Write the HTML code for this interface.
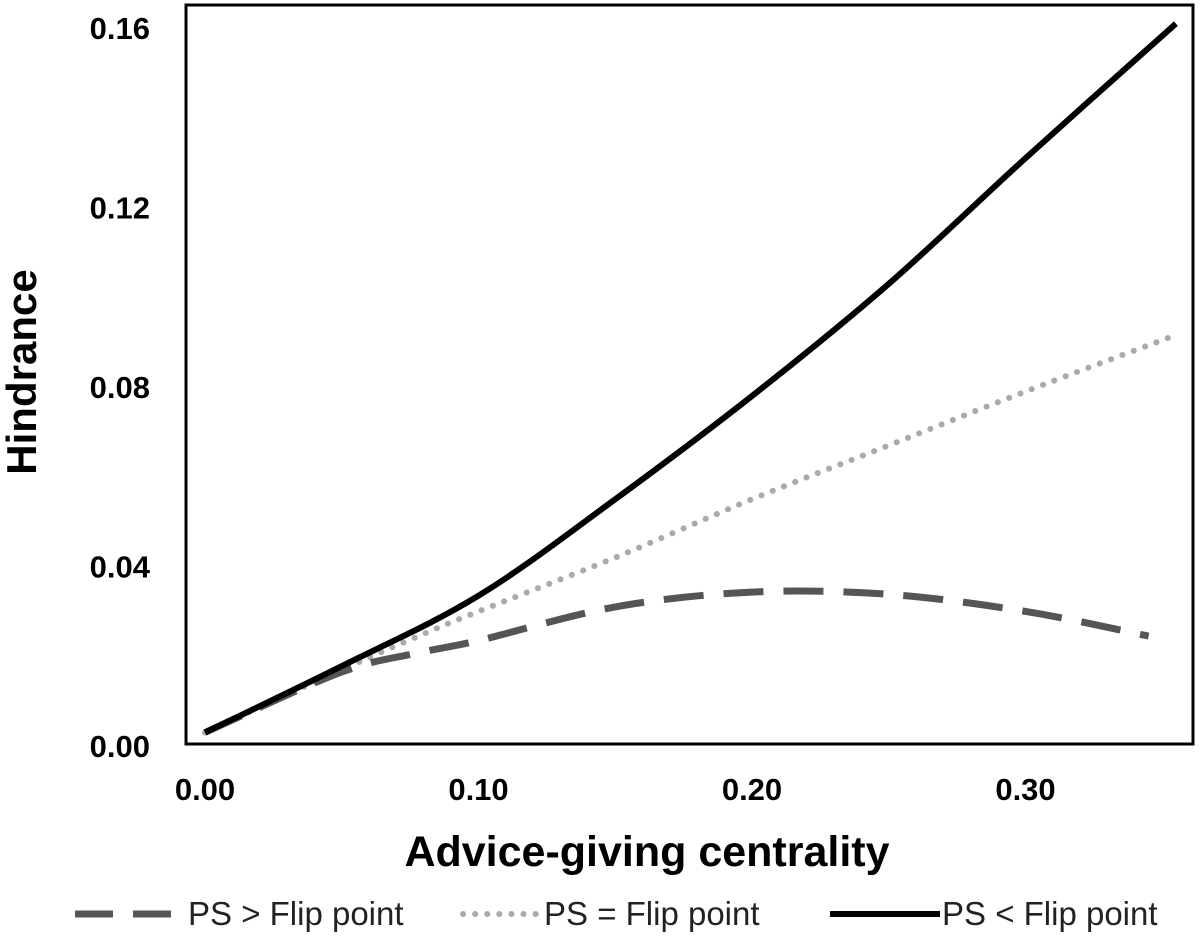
<!DOCTYPE html>
<html><head><meta charset="utf-8"><style>
html,body{margin:0;padding:0;background:#fff;width:1200px;height:942px;overflow:hidden}
text{font-family:"Liberation Sans",Arial,sans-serif}
</style></head><body>
<svg id="chart" width="1200" height="942" viewBox="0 0 1200 942">
<rect x="186" y="5" width="1007" height="739" fill="none" stroke="#000" stroke-width="3"/>
<g id="yticks"></g>
<g id="xticks"></g>
<g id="series"></g>
<text x="36" y="372" transform="rotate(-90 36 372)" text-anchor="middle" font-weight="bold" font-size="42">Hindrance</text>
<text x="647" y="866" text-anchor="middle" font-weight="bold" font-size="43">Advice-giving centrality</text>
<g>
<g>
<line x1="75" y1="914" x2="183" y2="914" stroke="#555" stroke-width="7" stroke-dasharray="38 20"/>
<text x="188" y="925" font-size="33" fill="#222">PS &gt; Flip point</text></g>
<g>
<line x1="463" y1="914" x2="540" y2="914" stroke="#aaa" stroke-width="6" stroke-dasharray="0.1 12" stroke-linecap="round"/>
<text x="544" y="925" font-size="33" fill="#222">PS = Flip point</text></g>
<g>
<line x1="830" y1="914" x2="940" y2="914" stroke="#000" stroke-width="6"/>
<text x="942" y="925" font-size="33" fill="#222">PS &lt; Flip point</text></g>
</g>
</svg>
<script>
const yTicks=[0,0.04,0.08,0.12,0.16];
const yTickLabels=["0.00","0.04","0.08","0.12","0.16"];
const xTicks=[0,0.1,0.2,0.3];
const xTickLabels=["0.00","0.10","0.20","0.30"];
const xValues=[0.0,0.05,0.10,0.15,0.20,0.25,0.30,0.355];
const solidValues=[0.003,0.0178,0.0335,0.055,0.078,0.103,0.131,0.161];
const dottedX=[0.0,0.05,0.08,0.10,0.15,0.20,0.25,0.30,0.355];
const dottedValues=[0.003,0.017,0.025,0.030,0.042,0.055,0.067,0.079,0.0916];
const dashedX=[0.0,0.05,0.08,0.10,0.15,0.20,0.25,0.30,0.345];
const dashedValues=[0.003,0.0165,0.021,0.0235,0.031,0.0343,0.0338,0.030,0.0245];
const X=v=>205+v*2735;
const Y=v=>746-v*4487;
const NS="http://www.w3.org/2000/svg";
function mk(tag,attrs,parent){const e=document.createElementNS(NS,tag);for(const k in attrs)e.setAttribute(k,attrs[k]);parent.appendChild(e);return e;}
const yg=document.getElementById('yticks'),xg=document.getElementById('xticks'),sg=document.getElementById('series');
yTicks.forEach((v,i)=>{const t=mk('text',{x:150,y:Y(v)+11,'text-anchor':'end','font-size':31,'font-weight':'bold'},yg);t.textContent=yTickLabels[i];

});
xTicks.forEach((v,i)=>{const t=mk('text',{x:X(v),y:800,'text-anchor':'middle','font-size':31,'font-weight':'bold'},xg);t.textContent=xTickLabels[i];

});
function pathOf(xs,ys){
  const p=xs.map((x,i)=>[X(x),Y(ys[i])]);
  let d='M'+p[0][0].toFixed(1)+' '+p[0][1].toFixed(1);
  for(let i=0;i<p.length-1;i++){
    const p0=p[Math.max(i-1,0)],p1=p[i],p2=p[i+1],p3=p[Math.min(i+2,p.length-1)];
    const c1=[p1[0]+(p2[0]-p0[0])/6,p1[1]+(p2[1]-p0[1])/6];
    const c2=[p2[0]-(p3[0]-p1[0])/6,p2[1]-(p3[1]-p1[1])/6];
    d+='C'+c1[0].toFixed(1)+' '+c1[1].toFixed(1)+' '+c2[0].toFixed(1)+' '+c2[1].toFixed(1)+' '+p2[0].toFixed(1)+' '+p2[1].toFixed(1);
  }
  return d;
}
const pd=mk('path',{d:pathOf(dottedX,dottedValues),fill:'none',stroke:'#aaa','stroke-width':6,'stroke-dasharray':'0.1 12','stroke-linecap':'round'},sg);


const pda=mk('path',{d:pathOf(dashedX,dashedValues),fill:'none',stroke:'#555','stroke-width':7,'stroke-dasharray':'40 20'},sg);


const ps=mk('path',{d:pathOf(xValues,solidValues),fill:'none',stroke:'#000','stroke-width':6},sg);


</script>
</body></html>
